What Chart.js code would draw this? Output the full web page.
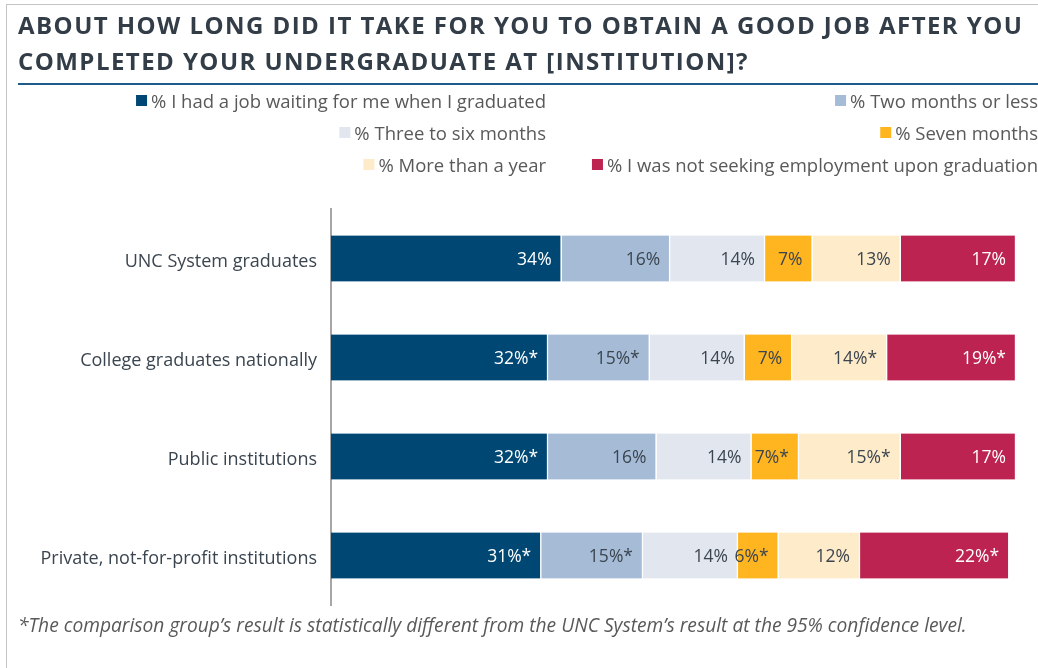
<!DOCTYPE html>
<html>
<head>
<meta charset="utf-8">
<script src="https://cdn.jsdelivr.net/npm/chart.js@4.4.1/dist/chart.umd.min.js"></script>
<style>
  html, body { margin: 0; padding: 0; background: #fff; }
  body { width: 1038px; height: 668px; position: relative; overflow: hidden; font-family: "Open Sans", sans-serif; }
  #frame { position: absolute; left: 6px; top: 4px; width: 1040px; height: 680px; border-top: 1.5px solid #c4c4c4; border-left: 1.5px solid #c4c4c4; }
  #title { position: absolute; left: 18px; top: 7px; width: 1030px; font-weight: 700; font-size: 24px; letter-spacing: 1.45px; line-height: 36px; color: #333d47; white-space: nowrap; }
  #rule { position: absolute; left: 18px; top: 83px; width: 1020px; height: 2px; background: #1f5a8c; }
  #legend { position: absolute; left: 0; top: 86px; width: 1038px; }
  .lrow { position: relative; height: 32px; }
  .litem { position: absolute; top: 0; height: 28px; display: flex; align-items: center; font-size: 18.5px; color: #595959; white-space: nowrap; transform: translateX(-100%); }
  .lbox { width: 11px; height: 11px; margin-right: 4px; }
  #chartwrap { position: absolute; left: 0; top: 0; width: 1038px; height: 668px; }
  #note { position: absolute; left: 18px; top: 611px; font-style: italic; font-size: 19.2px; color: #595959; white-space: nowrap; }
</style>
</head>
<body>
<div id="frame"></div>
<div id="chartwrap"><canvas id="c" width="1038" height="668"></canvas></div>
<div id="title">ABOUT HOW LONG DID IT TAKE FOR YOU TO OBTAIN A GOOD JOB AFTER YOU<br>COMPLETED YOUR UNDERGRADUATE AT [INSTITUTION]?</div>
<div id="rule"></div>
<div id="legend"></div>
<div id="note">*The comparison group’s result is statistically different from the UNC System’s result at the 95% confidence level.</div>
<script>
// ---- data ----
const categories = ['UNC System graduates', 'College graduates nationally', 'Public institutions', 'Private, not-for-profit institutions'];
const seriesNames = ['% I had a job waiting for me when I graduated', '% Two months or less', '% Three to six months', '% Seven months', '% More than a year', '% I was not seeking employment upon graduation'];
const jobWaiting   = [34, 32, 32, 31];
const twoMonths    = [16, 15, 16, 15];
const threeToSix   = [14, 14, 14, 14];
const sevenMonths  = [7, 7, 7, 6];
const moreThanYear = [13, 14, 15, 12];
const notSeeking   = [17, 19, 17, 22];
// statistically different from UNC System (asterisk)
const jobWaitingSig   = [false, true, true, true];
const twoMonthsSig    = [false, true, false, true];
const threeToSixSig   = [false, false, false, false];
const sevenMonthsSig  = [false, false, true, true];
const moreThanYearSig = [false, true, true, false];
const notSeekingSig   = [false, true, false, true];

const colors = ['#004873', '#a6bcd6', '#e2e7ef', '#feb520', '#feebc9', '#bd2350'];
const labelColors = ['#ffffff', '#3b4550', '#3b4550', '#3b4550', '#3b4550', '#ffffff'];
const values = [jobWaiting, twoMonths, threeToSix, sevenMonths, moreThanYear, notSeeking];
const sigs = [jobWaitingSig, twoMonthsSig, threeToSixSig, sevenMonthsSig, moreThanYearSig, notSeekingSig];

const datasets = values.map((v, i) => ({
  label: seriesNames[i],
  data: v,
  backgroundColor: colors[i],
  borderColor: '#ffffff',
  borderWidth: {top: 0, bottom: 0, left: 0, right: 1.5},
  borderSkipped: false,
  sig: sigs[i],
  labelColor: labelColors[i]
}));

const labelPlugin = {
  id: 'barLabels',
  afterDatasetsDraw(chart) {
    const ctx = chart.ctx;
    ctx.save();
    ctx.font = '17.5px "Open Sans"';
    ctx.textAlign = 'right';
    ctx.textBaseline = 'middle';
    chart.data.datasets.forEach((ds, di) => {
      const meta = chart.getDatasetMeta(di);
      meta.data.forEach((bar, i) => {
        const txt = ds.data[i] + '%' + (ds.sig[i] ? '*' : '');
        ctx.fillStyle = ds.labelColor;
        ctx.fillText(txt, bar.x - 10, bar.y + 2);
      });
    });
    ctx.restore();
  }
};

const chart = new Chart(document.getElementById('c'), {
  type: 'bar',
  data: { labels: categories, datasets },
  options: {
    indexAxis: 'y',
    responsive: false,
    animation: false,
    layout: { padding: { top: 209, bottom: 63, left: 0, right: 22 } },
    plugins: { legend: { display: false }, tooltip: { enabled: false } },
    datasets: { bar: { barThickness: 46 } },
    scales: {
      x: { stacked: true, min: 0, max: 101, display: false },
      y: {
        stacked: true,
        grid: { display: false, drawTicks: false },
        border: { display: true, color: '#a6a6a6', width: 2 },
        ticks: { color: '#3b4550', font: { family: '"Open Sans"', size: 18 }, padding: 14, labelOffset: 3 },
        afterFit(scale) { scale.width = 331; }
      }
    }
  },
  plugins: [labelPlugin]
});

// HTML legend built from datasets: 3 rows x 2 columns, right aligned
const legend = document.getElementById('legend');
const colRights = [546, 1038];
for (let r = 0; r < 3; r++) {
  const row = document.createElement('div');
  row.className = 'lrow';
  for (let c = 0; c < 2; c++) {
    const idx = r * 2 + c;
    const ds = chart.data.datasets[idx];
    const item = document.createElement('div');
    item.className = 'litem';
    item.style.left = colRights[c] + 'px';
    const box = document.createElement('span');
    box.className = 'lbox';
    box.style.background = ds.backgroundColor;
    const t = document.createElement('span');
    t.textContent = ds.label;
    item.appendChild(box); item.appendChild(t);
    row.appendChild(item);
  }
  legend.appendChild(row);
}
</script>
</body>
</html>
